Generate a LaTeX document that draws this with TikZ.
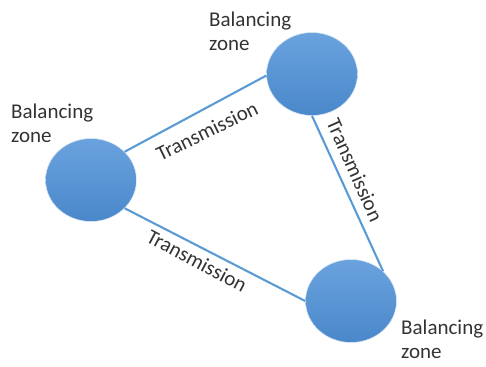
\documentclass[tikz,border=0pt]{standalone}
\usepackage{fontspec}
\setmainfont{Carlito}
\usetikzlibrary{shapes.geometric}
\definecolor{zonetop}{RGB}{106,162,222}
\definecolor{zonebot}{RGB}{74,136,202}
\definecolor{linkblue}{RGB}{91,155,213}
\tikzset{
  zone/.style={ellipse,minimum width=91pt,minimum height=83pt,inner sep=0pt,
    top color=zonetop,bottom color=zonebot,draw=white!75!linkblue,line width=0.6pt},
  link/.style={draw=linkblue,line width=2.1pt},
  lbl/.style={font=\fontsize{21}{24}\selectfont,text=black!80,inner sep=0pt},
  zonelbl/.style={lbl,align=left,anchor=north west}
}
\begin{document}
\begin{tikzpicture}[x=1pt,y=-1pt]
  \useasboundingbox (0,0) rectangle (486,366);
  \node[zone] (z1) at (91,180) {};
  \node[zone] (z2) at (312,74) {};
  \node[zone] (z3) at (351,301) {};
  \draw[link] (z1.40) -- (z2.182);
  \draw[link] (z2.270) -- (z3.43);
  \draw[link] (z1.320) -- (z3.180);
  \node[lbl,rotate=26] (t12) at (207,131) {Transmission};
  \node[lbl,rotate=-66] (t23) at (355,170) {Transmission};
  \node[lbl,rotate=-28] (t13) at (197,261) {Transmission};
  \node[zonelbl] (l1) at (11,104) {Balancing\\zone};
  \node[zonelbl] (l2) at (209,12) {Balancing\\zone};
  \node[zonelbl] (l3) at (401,320) {Balancing\\zone};
\end{tikzpicture}
\end{document}
